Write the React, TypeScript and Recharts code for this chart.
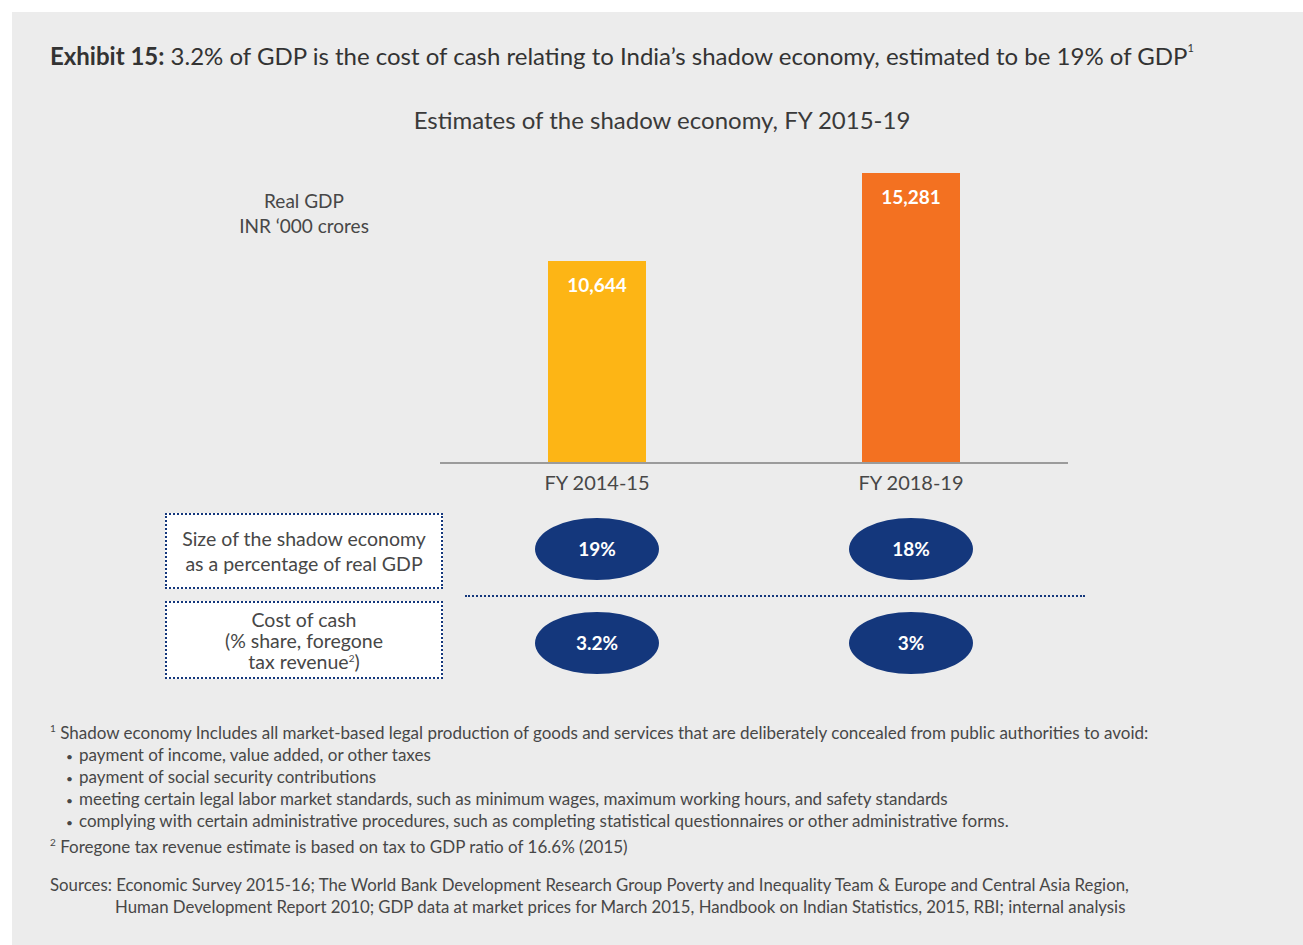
import React from 'react';
import { BarChart, Bar, XAxis, YAxis, Cell, LabelList } from 'recharts';

const categories = ['FY 2014-15', 'FY 2018-19'];
const realGdp = [10644, 15281];
const shadowShare = [19, 18];
const costOfCash = [3.2, 3];
const barColors = ['#FDB515', '#F37121'];

const data = categories.map((c, i) => ({ category: c, gdp: realGdp[i] }));

const FONT = 'Lato, "Open Sans", sans-serif';
const NAVY = '#14377c';
const TEXT = '#474747';

const fmt = (v: number) => v.toLocaleString('en-US');

const Tick = (props: any) => {
  const { x, y, payload } = props;
  const i = categories.indexOf(payload.value);
  return (
    <g>
      <text x={x} y={y + 12} dy="0.35em" textAnchor="middle" fill={TEXT} fontSize={20} fontFamily={FONT}>
        {payload.value}
      </text>
      <ellipse cx={x} cy={y + 78} rx={62} ry={31} fill={NAVY} />
      <text x={x} y={y + 78} dy="0.35em" textAnchor="middle" fill="#fff" fontSize={19} fontWeight={700} fontFamily={FONT}>
        {shadowShare[i] + '%'}
      </text>
      <ellipse cx={x} cy={y + 172} rx={62} ry={31} fill={NAVY} />
      <text x={x} y={y + 172} dy="0.35em" textAnchor="middle" fill="#fff" fontSize={19} fontWeight={700} fontFamily={FONT}>
        {costOfCash[i] + '%'}
      </text>
    </g>
  );
};

const abs = (s: React.CSSProperties): React.CSSProperties => ({ position: 'absolute', fontFamily: FONT, color: TEXT, ...s });
const supStyle: React.CSSProperties = { fontSize: 10, lineHeight: 0, verticalAlign: 'super' };
const line: React.CSSProperties = { height: 22, lineHeight: '22px' };

export default function App() {
  return (
    <div style={{ position: 'absolute', left: 0, top: 0, width: 1303, height: 945, background: '#fff', overflow: 'hidden' }}>
      <div style={{ position: 'absolute', left: 12, top: 12, width: 1291, height: 933, background: '#ececec' }} />
      <div style={{ position: 'absolute', left: 0, top: 0 }}>
        <BarChart width={1303} height={700} data={data} margin={{ top: 173, right: 235, bottom: 207, left: 440 }}>
          <YAxis hide domain={[0, 'dataMax']} />
          <XAxis
            dataKey="category"
            height={30}
            axisLine={{ stroke: '#9b9b9b', strokeWidth: 2 }}
            tickLine={false}
            tick={<Tick />}
            interval={0}
          />
          <Bar dataKey="gdp" barSize={98} isAnimationActive={false}>
            {data.map((d, i) => (
              <Cell key={d.category} fill={barColors[i]} />
            ))}
            <LabelList dataKey="gdp" position="insideTop" offset={18} fill="#fff" fontSize={19} fontWeight={700} fontFamily={FONT} formatter={(v: any) => fmt(Number(v))} />
          </Bar>
        </BarChart>
      </div>

      <div style={abs({ left: 50, top: 41, fontSize: 24, lineHeight: '30px', color: '#333', whiteSpace: 'nowrap' })}>
        <b>Exhibit 15:</b> 3.2% of GDP is the cost of cash relating to India’s shadow economy, estimated to be 19% of GDP
        <span style={{ ...supStyle, fontSize: 11, position: 'relative', top: -4 }}>1</span>
      </div>
      <div style={abs({ left: 212, width: 900, top: 105, fontSize: 24, lineHeight: '30px', textAlign: 'center', color: '#3a3a3a' })}>
        Estimates of the shadow economy, FY 2015-19
      </div>
      <div style={abs({ left: 184, width: 240, top: 188, fontSize: 19, lineHeight: '25px', textAlign: 'center' })}>
        Real GDP
        <br />
        INR ‘000 crores
      </div>

      <div style={abs({ left: 165, top: 513, width: 278, height: 76, boxSizing: 'border-box', border: `2px dotted ${NAVY}`, background: '#fff', display: 'flex', alignItems: 'center', justifyContent: 'center', textAlign: 'center', fontSize: 19.5, lineHeight: '25px' })}>
        <div>
          Size of the shadow economy
          <br />
          as a percentage of real GDP
        </div>
      </div>
      <div style={abs({ left: 165, top: 601, width: 278, height: 78, boxSizing: 'border-box', border: `2px dotted ${NAVY}`, background: '#fff', display: 'flex', alignItems: 'center', justifyContent: 'center', textAlign: 'center', fontSize: 19.5, lineHeight: '21px' })}>
        <div>
          Cost of cash
          <br />
          (% share, foregone
          <br />
          tax revenue<span style={supStyle}>2</span>)
        </div>
      </div>
      <div style={{ position: 'absolute', left: 465, top: 595, width: 620, height: 0, borderTop: `2px dotted ${NAVY}` }} />

      <div style={abs({ left: 50, top: 722, fontSize: 17, lineHeight: '22px', whiteSpace: 'nowrap' })}>
        <div style={line}>
          <span style={supStyle}>1</span> Shadow economy Includes all market-based legal production of goods and services that are deliberately concealed from public authorities to avoid:
        </div>
        {[
          'payment of income, value added, or other taxes',
          'payment of social security contributions',
          'meeting certain legal labor market standards, such as minimum wages, maximum working hours, and safety standards',
          'complying with certain administrative procedures, such as completing statistical questionnaires or other administrative forms.',
        ].map((t) => (
          <div key={t} style={{ ...line, paddingLeft: 16 }}>
            <span style={{ display: 'inline-block', width: 13, fontSize: 12, lineHeight: 0 }}>•</span>
            {t}
          </div>
        ))}
        <div style={{ ...line, marginTop: 4 }}>
          <span style={supStyle}>2</span> Foregone tax revenue estimate is based on tax to GDP ratio of 16.6% (2015)
        </div>
      </div>

      <div style={abs({ left: 50, top: 874, fontSize: 16.8, lineHeight: '22px', whiteSpace: 'nowrap' })}>
        <div style={line}>Sources: Economic Survey 2015-16; The World Bank Development Research Group Poverty and Inequality Team &amp; Europe and Central Asia Region,</div>
        <div style={{ ...line, paddingLeft: 65 }}>Human Development Report 2010; GDP data at market prices for March 2015, Handbook on Indian Statistics, 2015, RBI; internal analysis</div>
      </div>
    </div>
  );
}
